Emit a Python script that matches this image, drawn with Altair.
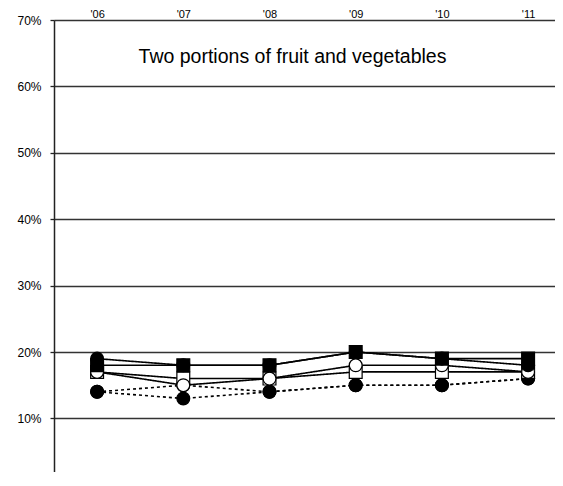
import json
import altair as alt
import pandas as pd

# ---- data ----
year_labels = ["'06", "'07", "'08", "'09", "'10", "'11"]
year_index = [0, 1, 2, 3, 4, 5]

series_names = ["Group F", "Group E", "Group C", "Group D", "Group A", "Group B"]
series_values = {
    "Group F": [0.14, 0.15, 0.14, 0.15, 0.15, 0.16],   # black marker, dotted
    "Group E": [0.14, 0.13, 0.14, 0.15, 0.15, 0.16],   # black circle, dotted
    "Group C": [0.17, 0.16, 0.16, 0.17, 0.17, 0.17],   # white square, solid
    "Group D": [0.17, 0.15, 0.16, 0.18, 0.18, 0.17],   # white circle, solid
    "Group A": [0.18, 0.18, 0.18, 0.20, 0.19, 0.19],   # black square, solid
    "Group B": [0.19, 0.18, 0.18, 0.20, 0.19, 0.18],   # black circle, solid
}
series_shape = ["circle", "circle", "square", "circle", "square", "circle"]
series_fill = ["black", "black", "white", "white", "black", "black"]
series_dash = [[3, 3], [3, 3], [1, 0], [1, 0], [1, 0], [1, 0]]
series_size = [165, 165, 200, 165, 200, 165]

y_ticks = [0, 0.1, 0.2, 0.3, 0.4, 0.5, 0.6, 0.7]
title_text = "Two portions of fruit and vegetables"

rows = []
for order, name in enumerate(series_names):
    for i, v in zip(year_index, series_values[name]):
        rows.append({"series": name, "order": order, "idx": i,
                     "year": year_labels[i], "value": v})
df = pd.DataFrame(rows)

band = 86.2          # px per year
px_per_unit = 664.0  # px per 100 %
width = 501
height = 452
x_scale = alt.Scale(domain=[-0.5, width / band - 0.5], nice=False, zero=False)
y_scale = alt.Scale(domain=[0.7 - height / px_per_unit, 0.7], nice=False, zero=False)

x_enc = alt.X("idx:Q", scale=x_scale,
              axis=alt.Axis(orient="top", values=year_index,
                            labelExpr=f"{json.dumps(year_labels)}[datum.value]",
                            title=None, grid=False, domain=False, ticks=False,
                            labelFontSize=11, labelPadding=3,
                            labelBaseline="alphabetic",
                            labelFont="Liberation Sans", labelColor="black"))
y_enc = alt.Y("value:Q", scale=y_scale,
              axis=alt.Axis(values=y_ticks, format=".0%", title=None,
                            grid=True, gridColor="#333", gridWidth=1.3,
                            domain=True, domainColor="#222", domainWidth=1.5,
                            ticks=True, tickSize=4, tickColor="#222", tickWidth=1.3,
                            labelFontSize=12, labelPadding=9,
                            labelFont="Liberation Sans", labelColor="black"))

base = alt.Chart(df)

lines = base.mark_line(color="black", strokeWidth=1.6).encode(
    x=x_enc, y=y_enc,
    detail="series:N",
    order="idx:Q",
    strokeDash=alt.StrokeDash("series:N",
                              scale=alt.Scale(domain=series_names, range=series_dash),
                              legend=None),
)

points = base.mark_point(filled=True, stroke="black", strokeWidth=1.2, opacity=1).encode(
    x="idx:Q", y="value:Q",
    shape=alt.Shape("series:N", scale=alt.Scale(domain=series_names, range=series_shape),
                    legend=None),
    fill=alt.Fill("series:N", scale=alt.Scale(domain=series_names, range=series_fill),
                  legend=None),
    size=alt.Size("series:N", scale=alt.Scale(domain=series_names, range=series_size),
                  legend=None),
    order="order:Q",
)

chart = alt.layer(lines, points).properties(
    width=width, height=height,
    autosize="none",
    padding={"left": 46, "top": 12, "right": 0, "bottom": 0},
    title=alt.TitleParams(title_text, fontSize=19.5, font="Liberation Sans",
                          fontWeight="normal", anchor="middle", frame="group",
                          dx=-12, dy=59, offset=0, color="black"),
).configure_view(stroke=None).configure(background="white")

chart.save("out.html", embed_options={"renderer": "svg", "actions": False})
